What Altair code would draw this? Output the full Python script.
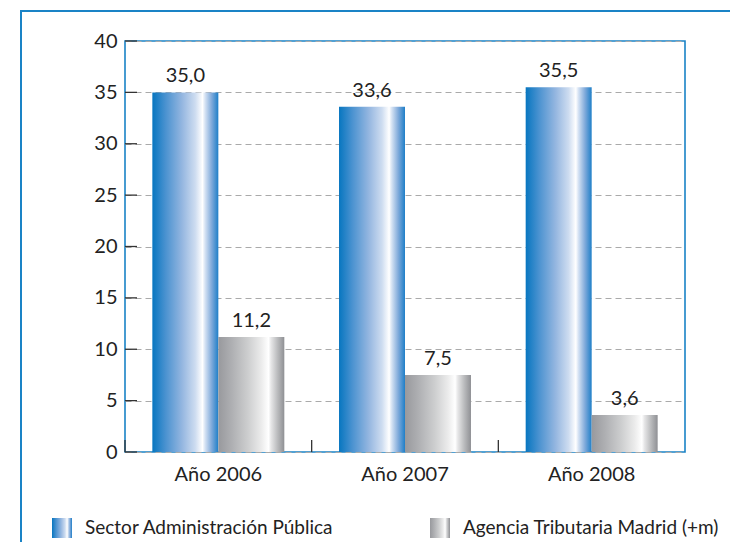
import altair as alt
import pandas as pd

years = ["Año 2006", "Año 2007", "Año 2008"]
series = ["Sector Administración Pública", "Agencia Tributaria Madrid (+m)"]
sector_vals = [35.0, 33.6, 35.5]
agencia_vals = [11.2, 7.5, 3.6]
y_tick_values = [0, 5, 10, 15, 20, 25, 30, 35, 40]

rows = []
for i, yr in enumerate(years):
    rows.append({"year": yr, "series": series[0], "value": sector_vals[i]})
    rows.append({"year": yr, "series": series[1], "value": agencia_vals[i]})
df = pd.DataFrame(rows)
df["label"] = df["value"].map(lambda v: f"{v:.1f}".replace(".", ","))

FONT = "Lato"
FS = 20
BLUE = "#1a83c6"
INK = "#222222"
W, H = 560, 411

blue_grad = ("{gradient:'linear',x1:0,y1:0,x2:1,y2:0,stops:["
             "{offset:0,color:'#0776c0'},{offset:0.2,color:'#4a92d0'},"
             "{offset:0.45,color:'#94b6e0'},{offset:0.65,color:'#cddcf0'},"
             "{offset:0.76,color:'#ffffff'},{offset:0.8,color:'#d5e2f3'},"
             "{offset:0.9,color:'#7ea9da'},{offset:1,color:'#1f7fc8'}]}")
gray_grad = ("{gradient:'linear',x1:0,y1:0,x2:1,y2:0,stops:["
             "{offset:0,color:'#98999d'},{offset:0.2,color:'#aeafb2'},"
             "{offset:0.45,color:'#cdcecf'},{offset:0.65,color:'#ebebeb'},"
             "{offset:0.76,color:'#ffffff'},{offset:0.8,color:'#e6e6e7'},"
             "{offset:0.9,color:'#b9babc'},{offset:1,color:'#8f9094'}]}")

PAD_IN = 0.293
x_scale = alt.Scale(domain=years, paddingInner=PAD_IN, paddingOuter=PAD_IN / 2)
y_scale = alt.Scale(domain=[0, 40], nice=False)

x_axis = alt.Axis(
    title=None, labelAngle=0, domain=False, ticks=False,
    labelPadding=12, labelFontSize=FS, labelFont=FONT, labelColor=INK,
    grid=False,
)
y_axis = alt.Axis(
    title=None, values=y_tick_values, domain=False, ticks=False,
    labelPadding=8, labelFontSize=FS, labelFont=FONT, labelColor=INK,
    grid=True, gridColor="#aaaaaa", gridDash=[6, 4], gridWidth=1,
)

x_enc = alt.X("year:N", sort=years, scale=x_scale, axis=x_axis)
xoff_enc = alt.XOffset("series:N", sort=series, scale=alt.Scale(domain=series))
y_enc = alt.Y("value:Q", scale=y_scale, axis=y_axis)

bars = alt.Chart(df).mark_bar().encode(
    x=x_enc,
    xOffset=xoff_enc,
    y=y_enc,
    color=alt.Color(
        "series:N",
        sort=series,
        scale=alt.Scale(domain=series, range=[{"expr": blue_grad}, {"expr": gray_grad}]),
        legend=alt.Legend(
            title=None, orient="none", legendX=-73, legendY=477,
            direction="horizontal", symbolType="square", symbolSize=400,
            symbolStrokeWidth=0, labelFontSize=19, labelFont=FONT,
            labelColor=INK, labelOffset=13, columnPadding=96,
            labelLimit=0,
        ),
    ),
)

labels = alt.Chart(df).mark_text(
    baseline="alphabetic", dy=-10, fontSize=FS, font=FONT, color=INK
).encode(x=x_enc, xOffset=xoff_enc, y=y_enc, text="label:N")

# inward tick marks on both axes
y_ticks = alt.Chart(pd.DataFrame({"value": y_tick_values})).mark_rule(
    color="#333333", strokeWidth=1.3
).encode(
    y=alt.Y("value:Q", scale=y_scale, axis=y_axis),
    x=alt.value(0), x2=alt.value(12),
)
# separators at the boundaries between category steps
step = W / len(years)
x_ticks = alt.Chart(pd.DataFrame({"year": years})).mark_rule(
    color="#333333", strokeWidth=1.3, xOffset=-step * PAD_IN / 2
).encode(
    x=alt.X("year:N", sort=years, scale=x_scale, bandPosition=0, axis=x_axis),
    y=alt.value(H), y2=alt.value(H - 12),
)

frame = alt.Chart(alt.Data(values=[{"f": 1}])).mark_rect(
    fill="transparent", stroke=BLUE, strokeWidth=2
).encode(
    x=alt.value(-104), y=alt.value(-30), x2=alt.value(1000), y2=alt.value(1000)
)

chart = alt.layer(frame, y_ticks, x_ticks, bars, labels).properties(
    width=W, height=H,
    autosize=alt.AutoSizeParams(type="none"),
    padding={"left": 117, "top": 33, "right": 45, "bottom": 90},
).configure_view(
    stroke=BLUE, strokeWidth=1.6
)

chart.save("out.html", embed_options={"renderer": "svg", "actions": False})
